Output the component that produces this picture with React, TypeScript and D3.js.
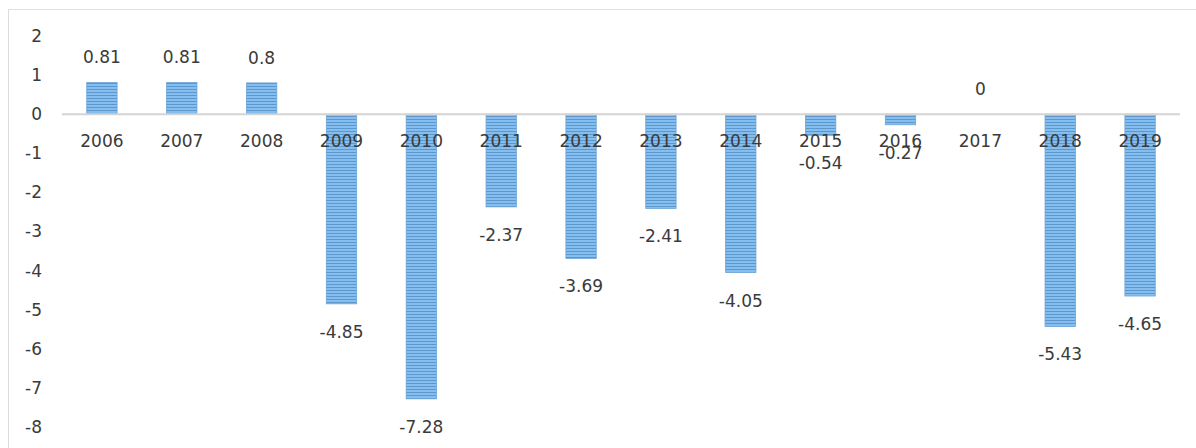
import React from "react";
import * as d3 from "d3";

const years = ["2006","2007","2008","2009","2010","2011","2012","2013","2014","2015","2016","2017","2018","2019"];
const values = [0.81,0.81,0.8,-4.85,-7.28,-2.37,-3.69,-2.41,-4.05,-0.54,-0.27,0,-5.43,-4.65];
const valueLabels = ["0.81","0.81","0.8","-4.85","-7.28","-2.37","-3.69","-2.41","-4.05","-0.54","-0.27","0","-5.43","-4.65"];
const yTicks = [2,1,0,-1,-2,-3,-4,-5,-6,-7,-8];

const W = 1196, H = 448;
const FONT = "'DejaVu Sans', Verdana, sans-serif";

export default function App() {
  const x = d3.scaleBand<string>().domain(years).range([62, 1180]).paddingInner(0.62).paddingOuter(0.31);
  const y = d3.scaleLinear().domain([-8, 2]).range([427, 36]);
  const y0 = y(0);
  return (
    <svg width={W} height={H} style={{ position: "absolute", left: 0, top: 0, background: "#fff" }}>
      <defs>
        <pattern id="stripes" width="4" height="3" patternUnits="userSpaceOnUse">
          <rect width="4" height="3" fill="#84bff0" />
          <rect y="2" width="4" height="1" fill="#5d97cd" />
        </pattern>
      </defs>
      <line x1={8.5} x2={8.5} y1={9} y2={H} stroke="#dcdcdc" strokeWidth={1} />
      <line x1={8} x2={W} y1={9.5} y2={9.5} stroke="#e2e2e2" strokeWidth={1} />
      {yTicks.map((t) => (
        <text key={t} x={42} y={y(t)} dy="0.35em" textAnchor="end" fontFamily={FONT} fontSize={17} fill="#3a3a3a">
          {t}
        </text>
      ))}
      {years.map((yr, i) => {
        const v = values[i];
        const top = Math.min(y(v), y0);
        const h = Math.abs(y(v) - y0);
        return (
          <rect key={yr} x={x(yr)} y={top} width={x.bandwidth()} height={h} fill="url(#stripes)" stroke="#6aa3d6" strokeWidth={0.8} />
        );
      })}
      <line x1={62} x2={1180} y1={y0} y2={y0} stroke="#d4d4d4" strokeWidth={2} />
      {years.map((yr) => (
        <text key={"c" + yr} x={(x(yr) as number) + x.bandwidth() / 2} y={y0 + 27} dy="0.35em" textAnchor="middle" fontFamily={FONT} fontSize={17} fill="#3a3a3a">
          {yr}
        </text>
      ))}
      {years.map((yr, i) => {
        const v = values[i];
        const cy = v >= 0 ? y(v) - 25 : y(v) + 28;
        return (
          <text key={"v" + yr} x={(x(yr) as number) + x.bandwidth() / 2} y={cy} dy="0.35em" textAnchor="middle" fontFamily={FONT} fontSize={17} fill="#3a3a3a">
            {valueLabels[i]}
          </text>
        );
      })}
    </svg>
  );
}
